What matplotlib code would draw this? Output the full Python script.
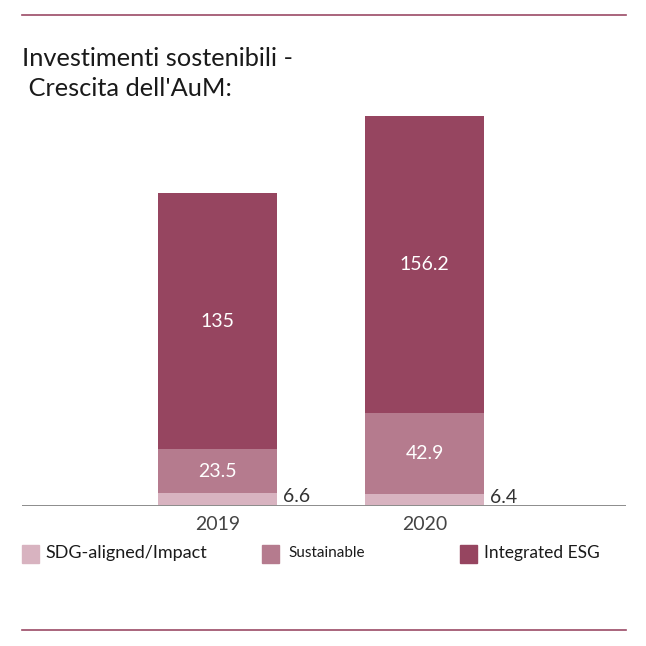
import matplotlib.pyplot as plt
from matplotlib.patches import Rectangle
from matplotlib.lines import Line2D

# data
years = ['2019', '2020']
sdg_impact = [6.6, 6.4]
sustainable = [23.5, 42.9]
integrated_esg = [135, 156.2]
series_names = ['SDG-aligned/Impact', 'Sustainable', 'Integrated ESG']

c_light = '#d8b3c0'
c_mid = '#b57b8e'
c_dark = '#964560'
line_col = '#9b4a66'

plt.rcParams['font.family'] = ['Lato', 'DejaVu Sans']

W = 646
fig = plt.figure(figsize=(6.46, 6.46), dpi=100)


def fx(px):
    return px / W


def fy(py):
    return 1 - py / W


ax = fig.add_axes([fx(22), fy(506), fx(604), (506 - 100) / W])
x = list(range(len(years)))
bw = 0.575

ax.bar(x, sdg_impact, width=bw, color=c_light)
ax.bar(x, sustainable, width=bw, bottom=sdg_impact, color=c_mid)
bottom2 = [a + b for a, b in zip(sdg_impact, sustainable)]
ax.bar(x, integrated_esg, width=bw, bottom=bottom2, color=c_dark)

for i in x:
    ax.text(i, sdg_impact[i] + sustainable[i] / 2, f'{sustainable[i]:g}',
            ha='center', va='center', color='white', fontsize=14)
    ax.text(i, bottom2[i] + integrated_esg[i] / 2, f'{integrated_esg[i]:g}',
            ha='center', va='center', color='white', fontsize=14)
    ax.text(i + bw / 2 + 0.03, sdg_impact[i] / 2 + 1.5, f'{sdg_impact[i]:g}',
            ha='left', va='center', color='#333333', fontsize=14)

ax.set_xlim(-0.944, 1.973)
ax.set_ylim(0, 214.2)
for s in ax.spines.values():
    s.set_visible(False)
ax.axhline(0, color='#8c8c8c', lw=1.4)
ax.set_yticks([])
ax.set_xticks(x)
ax.set_xticklabels(years, fontsize=14, color='#444444')
ax.tick_params(axis='x', length=0, pad=7)

# title
fig.text(fx(22), fy(58), 'Investimenti sostenibili -', fontsize=18.3,
         color='#1a1a1a', va='center', ha='left')
fig.text(fx(22), fy(89), ' Crescita dell\'AuM:', fontsize=18.3,
         color='#1a1a1a', va='center', ha='left')

# legend drawn manually
leg = [(22, 45, c_light, 13), (262, 288, c_mid, 11), (460, 484, c_dark, 12.5)]
for (sx, tx, col, fs), name in zip(leg, series_names):
    fig.patches.append(Rectangle((fx(sx), fy(563)), fx(17), 18 / W,
                                 transform=fig.transFigure, color=col))
    fig.text(fx(tx), fy(553), name, fontsize=fs, color='#1a1a1a',
             va='center', ha='left')

# decorative rules
for py in (15, 630):
    fig.add_artist(Line2D([fx(22), fx(626)], [fy(py), fy(py)],
                          transform=fig.transFigure, color=line_col, lw=1.2))

fig.savefig('out.png', dpi=100, facecolor='white')
